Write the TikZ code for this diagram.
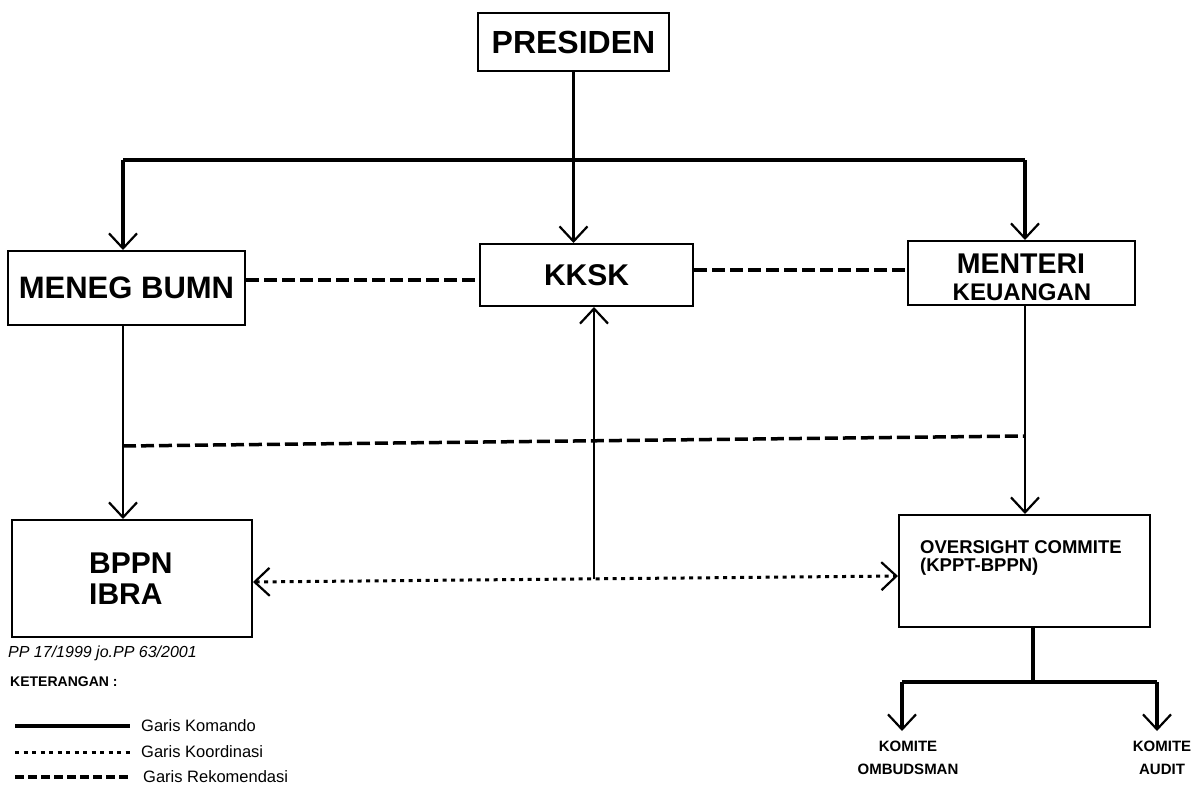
\documentclass[tikz,border=0pt]{standalone}
\usepackage{fontspec}
\setmainfont{Liberation Sans}
\usetikzlibrary{arrows.meta,calc}
\tikzset{
  box/.style={draw, line width=2pt, inner sep=0pt},
  txt/.style={inner sep=0pt},
  cmd/.style={line width=2pt},
  thk/.style={line width=3.2pt},
  rek/.style={line width=3.5pt, dash pattern=on 13pt off 5pt},
  koor/.style={line width=3pt, dash pattern=on 4pt off 4.5pt},
  arr/.style={-{Straight Barb[length=15pt,width=28pt,line width=2.2pt]}},
  darr/.style={{Straight Barb[length=15pt,width=28pt,line width=2.2pt]}-{Straight Barb[length=15pt,width=28pt,line width=2.2pt]}},
  big/.style={font=\fontsize{31}{36}\selectfont\bfseries},
}
\begin{document}
\begin{tikzpicture}[x=1pt,y=-1pt]
\fill[white] (0,0) rectangle (1195,790);
\useasboundingbox (0,0) rectangle (1195,790);

% boxes
\node[box, minimum width=191pt, minimum height=58pt, font=\fontsize{32}{36}\selectfont\bfseries] (pres) at (573.5,42) {PRESIDEN};
\node[box, minimum width=237pt, minimum height=74pt, big] (meneg) at (126.5,288) {MENEG BUMN};
\node[box, minimum width=213pt, minimum height=62pt, font=\fontsize{30}{34}\selectfont\bfseries] (kksk) at (586.5,275) {KKSK};
\node[box, minimum width=227pt, minimum height=64pt] (menteri) at (1021.5,273) {};
\node[txt, font=\fontsize{28.5}{34}\selectfont\bfseries] (menterit) at (1021,264) {MENTERI};
\node[txt, font=\fontsize{24}{28}\selectfont\bfseries] (keut) at (1022,292.5) {KEUANGAN};
\node[box, minimum width=240pt, minimum height=117pt] (bppn) at (132,578.5) {};
\node[txt, anchor=west, font=\fontsize{30}{34}\selectfont\bfseries] (bppnt) at (89,563) {BPPN};
\node[txt, anchor=west, font=\fontsize{30}{34}\selectfont\bfseries] (ibrat) at (89,594) {IBRA};
\node[box, minimum width=251pt, minimum height=112pt] (overs) at (1024.5,571) {};
\node[txt, anchor=west, font=\fontsize{18.5}{22}\selectfont\bfseries] (ovt1) at (920,547) {OVERSIGHT COMMITE};
\node[txt, anchor=west, font=\fontsize{18.5}{22}\selectfont\bfseries] (ovt2) at (920,567) {(KPPT-BPPN)};
\node[txt, align=center, font=\fontsize{15}{23}\selectfont\bfseries] (kom1) at (908,758) {KOMITE\\OMBUDSMAN};
\node[txt, align=center, font=\fontsize{15}{23}\selectfont\bfseries] (kom2) at (1162,758) {KOMITE\\AUDIT};

% command lines from president
\coordinate (barL) at (123,160);
\coordinate (barR) at (1025,160);
\draw[thk] (barL) -- (barR);
\draw[thk] (pres.south) -- (pres.south |- barL);
\draw[thk,arr] (barL) -- (barL |- meneg.north);
\draw[thk,arr] (barR) -- (barR |- menteri.north);
\draw[thk,arr] (pres.south |- barL) -- (pres.south |- kksk.north);

% recommendation lines
\draw[rek] ($(meneg.east)+(0,-8)$) -- ($(kksk.west)+(0,5)$);
\draw[rek] ($(kksk.east)+(0,-5)$) -- ($(menteri.west)+(0,-3)$);

% verticals
\coordinate (vL) at (123,446);
\coordinate (vR) at (1025,436);
\draw[cmd,arr] (meneg.south -| vL) -- (vL |- bppn.north);
\draw[cmd,arr] (menteri.south -| vR) -- (vR |- overs.north);
\draw[rek] (vL) -- (vR);

% coordination line
\coordinate (dotL) at ($(bppn.east)+(0,3.5)$);
\coordinate (dotR) at ($(overs.west)+(0,5)$);
\draw[koor,darr] (dotL) -- (dotR);
\coordinate (jn) at (594,579);
\draw[cmd,arr] (jn) -- (jn |- kksk.south);

% komite
\coordinate (kb) at (1033,682);
\coordinate (kL) at (902,682);
\coordinate (kR) at (1157,682);
\coordinate (kLe) at (902,731);
\coordinate (kRe) at (1157,731);
\draw[thk] (overs.south -| kb) -- (kb);
\draw[thk] (kL) -- (kR);
\draw[thk,arr] (kL) -- (kLe);
\draw[thk,arr] (kR) -- (kRe);

% legend
\node[txt, anchor=west, font=\fontsize{16}{18}\selectfont\itshape] (pp) at (8,653) {PP 17/1999 jo.PP 63/2001};
\node[txt, anchor=west, font=\fontsize{14}{16}\selectfont\bfseries] (ket) at (10,682) {KETERANGAN :};
\coordinate (l1a) at (15,726); \coordinate (l1b) at (130,726);
\coordinate (l2a) at (15,752); \coordinate (l2b) at (130,752);
\coordinate (l3a) at (15,777); \coordinate (l3b) at (130,777);
\draw[thk] (l1a) -- (l1b);
\draw[koor] (l2a) -- (l2b);
\draw[line width=3.5pt, dash pattern=on 9pt off 4pt] (l3a) -- (l3b);
\node[txt, anchor=west, font=\fontsize{16.5}{20}\selectfont] (g1) at (141,726) {Garis Komando};
\node[txt, anchor=west, font=\fontsize{16.5}{20}\selectfont] (g2) at (141,752) {Garis Koordinasi};
\node[txt, anchor=west, font=\fontsize{16.5}{20}\selectfont] (g3) at (143,777) {Garis Rekomendasi};
\end{tikzpicture}
\end{document}
